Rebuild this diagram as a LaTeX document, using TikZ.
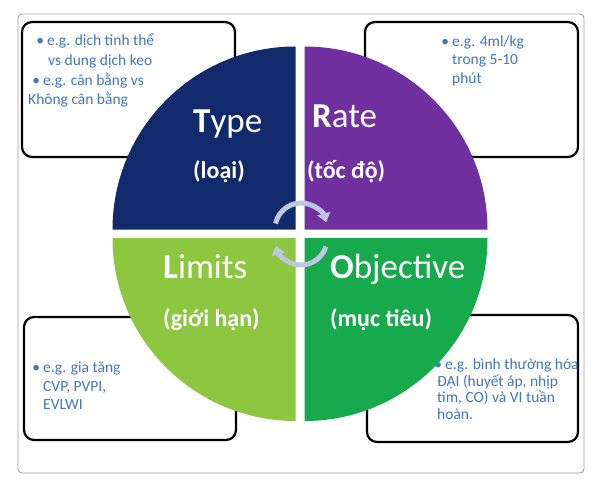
\documentclass[tikz,border=0pt]{standalone}
\usepackage{fontspec}
\setmainfont{Carlito}
\usetikzlibrary{arrows.meta}
\definecolor{navy}{RGB}{17,42,108}
\definecolor{purp}{RGB}{112,48,160}
\definecolor{lgreen}{RGB}{141,198,63}
\definecolor{dgreen}{RGB}{22,170,76}
\definecolor{txtblue}{RGB}{68,118,184}
\definecolor{arrowc}{RGB}{188,200,226}
\definecolor{framec}{RGB}{160,160,160}
\begin{document}
\begin{tikzpicture}[x=1pt,y=-1pt,
  notebox/.style={draw=black, line width=2.2pt, rounded corners=10pt, fill=white},
  body/.style={anchor=base west, inner sep=0pt, text=txtblue, font=\fontsize{15.5}{19}\selectfont},
  title/.style={anchor=base west, inner sep=0pt, text=white, font=\fontsize{35}{38}\selectfont},
  sub/.style={anchor=base west, inner sep=0pt, text=white, font=\bfseries\fontsize{24}{27}\selectfont},
  cyc/.style={draw=arrowc, line width=5pt, -{Triangle[width=13pt,length=9pt]}}
]
\useasboundingbox (0,0) rectangle (600,491);
\fill[white] (0,0) rectangle (600,491);
\draw[framec, line width=0.9pt, rounded corners=4pt] (18,14) rectangle (584,473);

% note boxes
\draw[notebox] (22,22) rectangle (235,157);
\draw[notebox] (365,22) rectangle (578,157);
\draw[notebox] (24,317) rectangle (236,440);
\draw[notebox] (367,315) rectangle (578,442);

% note texts
\node[body] (tl1) at (47,45) {\llap{•\hspace{3pt}}e.g. dịch tinh thể};
\node[body] (tl2) at (48,65) {vs dung dịch keo};
\node[body] (tl3) at (43,85) {\llap{•\hspace{3pt}}e.g. cân bằng vs};
\node[body] (tl4) at (28,104) {Không cân bằng};

\node[body] (tr1) at (452,46.5) {\llap{•\hspace{3pt}}e.g. 4ml/kg};
\node[body] (tr2) at (452,64.5) {trong 5-10};
\node[body] (tr3) at (452,83) {phút};

\node[body] (bl1) at (43,372) {\llap{•\hspace{3pt}}e.g. gia tăng};
\node[body] (bl2) at (43,391) {CVP, PVPI,};
\node[body] (bl3) at (43,409) {EVLWI};

\node[body] (br1) at (445,369) {\llap{•\hspace{3pt}}e.g. bình thường hóa};
\node[body] (br2) at (437,386) {ĐẠI (huyết áp, nhịp};
\node[body] (br3) at (437,402) {tim, CO) và VI tuần};
\node[body] (br4) at (437,419) {hoàn.};

% quadrants
\fill[navy] (295.5,229.5) -- ++(180:183) arc[start angle=180, end angle=270, radius=183] -- cycle;
\fill[purp] (304.5,229.5) -- ++(270:183) arc[start angle=270, end angle=360, radius=183] -- cycle;
\fill[lgreen] (295.5,238) -- ++(90:183) arc[start angle=90, end angle=180, radius=183] -- cycle;
\fill[dgreen] (304.5,238) -- ++(0:183) arc[start angle=0, end angle=90, radius=183] -- cycle;

% cycle arrows
\draw[cyc] (301,229) ++(-168:26) arc[start angle=-168, end angle=-15, radius=26];
\draw[cyc] (301,239) ++(17:26) arc[start angle=17, end angle=165, radius=26];

% titles
\node[title] (type) at (193,132) {\textbf{T}ype};
\node[sub] (loai) at (193,178) {(loại)};
\node[title] (rate) at (312,127) {\textbf{R}ate};
\node[sub] (tocdo) at (307,178) {(tốc độ)};
\node[title] (limits) at (163,278) {\textbf{L}imits};
\node[sub] (gioihan) at (163,326) {(giới hạn)};
\node[title] (objective) at (330,278) {\textbf{O}bjective};
\node[sub] (muctieu) at (330,326) {(mục tiêu)};
\end{tikzpicture}
\end{document}
